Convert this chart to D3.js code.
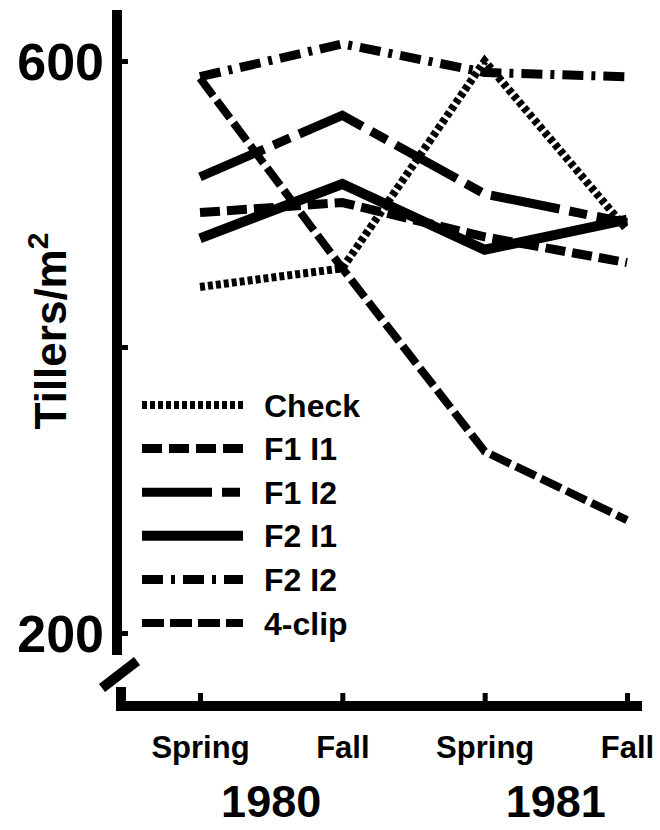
<!DOCTYPE html>
<html>
<head>
<meta charset="utf-8">
<script src="https://cdn.jsdelivr.net/npm/d3@7"></script>
<style>
	body { margin: 0; background: #fff; }
	svg { display: block; font-family: "Liberation Sans", Arial, sans-serif; font-weight: bold; }
	.axis .domain { display: none; }
	.axis line { stroke: #000; }
</style>
</head>
<body>
<div id="chart"></div>
<script>

// data (tillers per m2)
var seasons = ['Spring 1980', 'Fall 1980', 'Spring 1981', 'Fall 1981'];
var seasonLabels = ['Spring', 'Fall', 'Spring', 'Fall'];
var years = ['1980', '1981'];
var yTicks = [200, 400, 600];
var yLabels = [600, 200];

var treatments = ['Check', 'F1 I1', 'F1 I2', 'F2 I1', 'F2 I2', '4-clip'];
var check = [442, 455, 600, 482];
var f1i1 = [494, 501, 477, 459];
var f1i2 = [519, 562, 507, 487];
var f2i1 = [476, 514, 468, 489];
var f2i2 = [589, 612, 592, 589];
var clip4 = [588, 455, 327, 279];

var values = [check, f1i1, f1i2, f2i1, f2i2, clip4];
var dashes = ['5,3', '20,7', '70,10,18,10', null, '21,8,4,8', '22,6'];
var widths = [8, 9, 9, 10, 9, 8];

var chart = {
	width: 660,
	height: 830,
	container: '#chart'
};

var svg, xScale, yScale;

function createChart() {

	svg = d3.select(chart.container)
		.append('svg')
		.attr('width', chart.width)
		.attr('height', chart.height);

	xScale = d3.scalePoint()
		.domain(seasons)
		.range([200, 627]);

	yScale = d3.scaleLinear()
		.domain([200, 600])
		.range([633, 61]);

	// y axis: thick line, ticks pointing right
	svg.append('line')
		.attr('x1', 117).attr('x2', 117)
		.attr('y1', 10).attr('y2', 655)
		.style('stroke', '#000')
		.style('stroke-width', 10);

	svg.append('g')
		.attr('class', 'axis y-axis')
		.attr('transform', 'translate(117,0)')
		.call(d3.axisRight(yScale).tickValues(yTicks).tickSize(11).tickSizeOuter(0).tickFormat(''))
		.selectAll('line')
		.style('stroke-width', 5);

	svg.append('g')
		.selectAll('text')
		.data(yLabels)
		.enter().append('text')
		.attr('x', 104)
		.attr('y', function (d) { return yScale(d); })
		.attr('dy', '0.36em')
		.attr('text-anchor', 'end')
		.style('font-size', '52px')
		.text(function (d) { return d; });

	// axis break
	svg.append('line')
		.attr('x1', 102).attr('y1', 688)
		.attr('x2', 137).attr('y2', 661)
		.style('stroke', '#000')
		.style('stroke-width', 10);

	svg.append('line')
		.attr('x1', 121).attr('x2', 121)
		.attr('y1', 687).attr('y2', 711)
		.style('stroke', '#000')
		.style('stroke-width', 10);

	// x axis
	svg.append('line')
		.attr('x1', 116).attr('x2', 642)
		.attr('y1', 706).attr('y2', 706)
		.style('stroke', '#000')
		.style('stroke-width', 10);

	var xAxis = svg.append('g')
		.attr('class', 'axis x-axis')
		.attr('transform', 'translate(0,706)')
		.call(d3.axisBottom(xScale)
			.tickSizeInner(-13)
			.tickSizeOuter(0)
			.tickPadding(30)
			.tickFormat(function (d, i) { return seasonLabels[i]; }));

	xAxis.selectAll('line').style('stroke-width', 5);
	xAxis.selectAll('text')
		.style('font-size', '31px')
		.style('font-family', '"Liberation Sans", Arial, sans-serif')
		.style('font-weight', 'bold')
		.style('fill', '#000');

	svg.append('g')
		.selectAll('text')
		.data(years)
		.enter().append('text')
		.attr('x', function (d, i) { return (xScale(seasons[i * 2]) + xScale(seasons[i * 2 + 1])) / 2; })
		.attr('y', 817)
		.attr('text-anchor', 'middle')
		.style('font-size', '45px')
		.text(function (d) { return d; });

	// y title
	var title = svg.append('text')
		.attr('transform', 'translate(66,331) rotate(-90)')
		.attr('text-anchor', 'middle')
		.style('font-size', '44px');
	title.append('tspan').text('Tillers/m');
	title.append('tspan')
		.attr('dy', -18)
		.style('font-size', '30px')
		.text('2');

	// series lines
	var line = d3.line()
		.x(function (d, i) { return xScale(seasons[i]); })
		.y(function (d) { return yScale(d); });

	svg.append('g')
		.selectAll('path')
		.data(values)
		.enter().append('path')
		.attr('d', line)
		.style('fill', 'none')
		.style('stroke', '#000')
		.style('stroke-width', function (d, i) { return widths[i]; })
		.style('stroke-dasharray', function (d, i) { return dashes[i]; })
		.style('stroke-linejoin', 'miter');

	// legend
	var legend = svg.append('g')
		.selectAll('g')
		.data(treatments)
		.enter().append('g')
		.attr('transform', function (d, i) { return 'translate(0,' + (405 + i * 43.6) + ')'; });

	legend.append('line')
		.attr('x1', 142).attr('x2', 243)
		.attr('y1', 0).attr('y2', 0)
		.style('stroke', '#000')
		.style('stroke-width', function (d, i) { return widths[i]; })
		.style('stroke-dasharray', function (d, i) { return dashes[i]; });

	legend.append('text')
		.attr('x', 264)
		.attr('dy', '0.36em')
		.style('font-size', '32px')
		.text(function (d) { return d; });

}

createChart();

</script>
</body>
</html>
